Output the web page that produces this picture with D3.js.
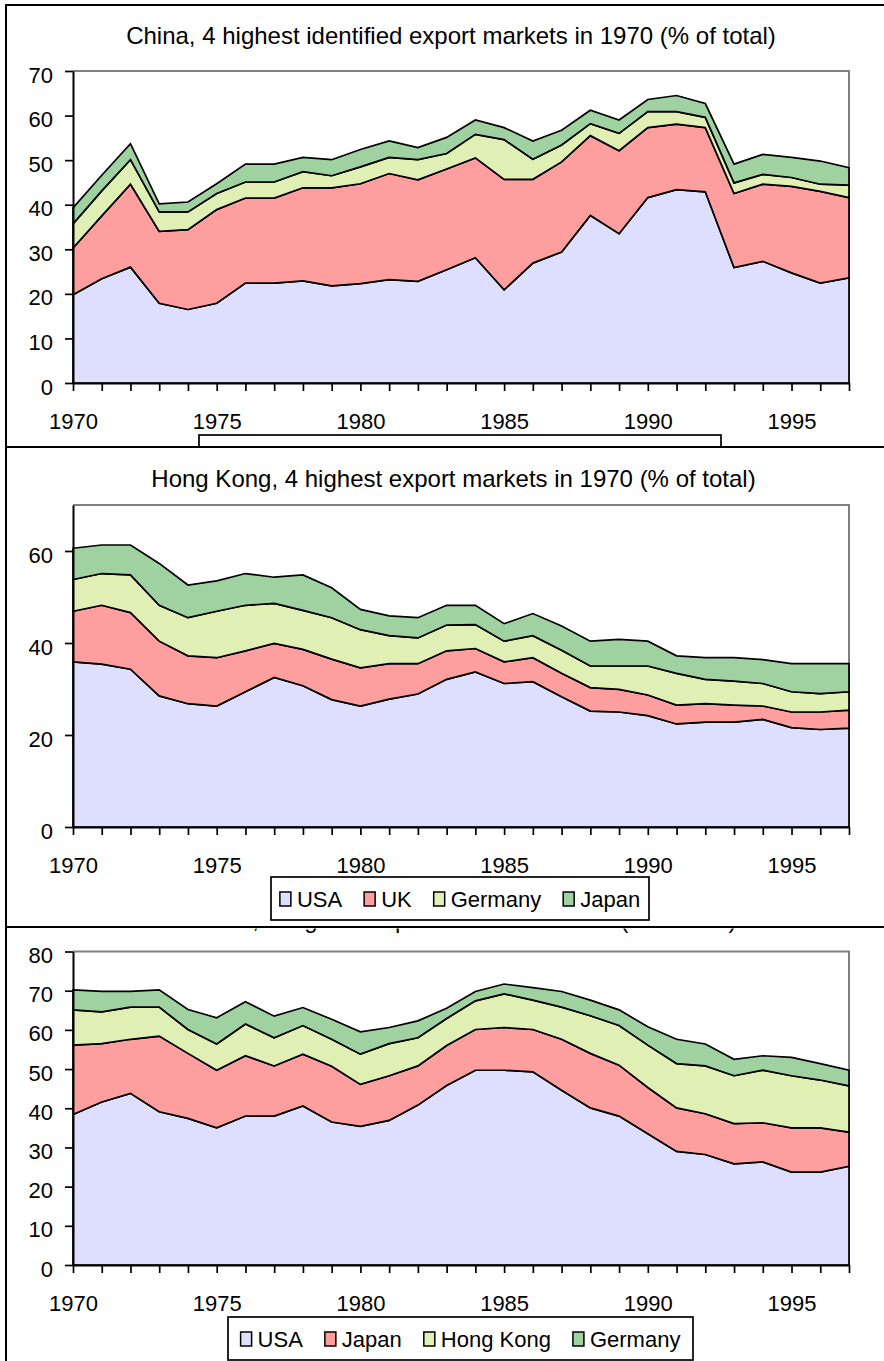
<!DOCTYPE html>
<html><head><meta charset="utf-8">
<script src="https://cdn.jsdelivr.net/npm/d3@7"></script>
<style>
body{margin:0;background:#fff}
svg{display:block}
text{font-family:"Liberation Sans",Arial,Helvetica,sans-serif;fill:#000}
</style>
</head><body>
<svg id="chart" width="884" height="1361"></svg>
<script>
// ---------- data ----------
const years = [1970,1971,1972,1973,1974,1975,1976,1977,1978,1979,1980,1981,1982,1983,
               1984,1985,1986,1987,1988,1989,1990,1991,1992,1993,1994,1995,1996,1997];
const xTickLabels = [1970,1975,1980,1985,1990,1995];

// China (its legend is hidden behind the Hong Kong panel)
const chinaHongKong  = [19.8,23.4,26.0,17.9,16.5,17.9,22.4,22.4,22.9,21.8,22.3,23.2,22.8,25.4,28.1,20.9,26.9,29.4,37.6,33.5,41.6,43.4,42.9,25.9,27.3,24.7,22.4,23.6];
const chinaJapan     = [10.5,14.1,18.6,16.1,17.9,21.0,19.1,19.1,20.9,22.0,22.4,23.8,22.8,22.6,22.4,24.8,18.8,20.2,17.9,18.6,15.7,14.7,14.4,16.6,17.3,19.4,20.6,18.0];
const chinaSingapore = [5.4,5.6,5.5,4.4,4.0,3.6,3.6,3.6,3.6,2.7,3.8,3.6,4.5,3.5,5.3,8.9,4.5,3.8,2.7,3.9,3.6,2.8,2.3,2.4,2.2,2.0,1.6,2.8];
const chinaGermany   = [3.6,3.5,3.6,1.8,2.2,2.2,4.0,4.0,3.2,3.6,3.9,3.7,2.7,3.6,3.2,2.7,4.1,3.3,3.0,3.0,2.7,3.6,3.1,4.2,4.5,4.5,5.2,3.9];
const chinaYTicks = [0,10,20,30,40,50,60,70];

// Hong Kong
const hkUSA     = [35.9,35.4,34.3,28.5,26.8,26.3,29.4,32.5,30.7,27.7,26.3,27.8,28.9,32.1,33.7,31.2,31.6,28.3,25.2,25.0,24.2,22.4,22.8,22.8,23.4,21.6,21.2,21.5];
const hkUK      = [11.0,12.8,12.3,11.9,10.4,10.5,8.9,7.4,7.9,8.8,8.3,7.7,6.6,6.2,5.1,4.7,5.2,5.1,5.1,4.9,4.5,4.1,4.0,3.7,2.9,3.4,3.8,3.9];
const hkGermany = [6.9,6.9,8.2,7.8,8.3,10.1,9.9,8.7,8.5,9.0,8.3,6.1,5.6,5.6,5.2,4.5,4.8,5.0,4.7,5.1,6.3,6.9,5.3,5.2,4.9,4.4,4.0,4.0];
const hkJapan   = [6.8,6.2,6.5,9.1,7.1,6.6,6.9,5.7,7.7,6.5,4.4,4.3,4.4,4.3,4.2,3.8,4.8,5.3,5.4,5.8,5.4,3.8,4.7,5.1,5.2,6.1,6.5,6.1];
const hkYTicks = [0,20,40,60];

// Taiwan
const twUSA      = [38.4,41.6,43.8,39.1,37.4,35.0,38.0,38.0,40.6,36.5,35.4,36.9,40.8,45.8,49.7,49.7,49.3,44.6,40.1,38.0,33.5,29.0,28.2,25.8,26.3,23.7,23.7,25.2];
const twJapan    = [17.7,14.9,13.8,19.3,16.6,14.7,15.4,12.8,13.2,14.2,10.7,11.4,10.0,10.2,10.4,10.9,10.8,13.0,13.9,13.0,11.8,11.1,10.4,10.3,10.0,11.3,11.3,8.7];
const twHongKong = [9.0,8.1,8.2,7.4,6.1,6.7,8.1,7.2,7.3,6.9,7.7,8.2,7.2,6.9,7.3,8.6,7.5,8.2,9.6,10.1,10.8,11.3,12.2,12.2,13.4,13.3,12.2,11.8];
const twGermany  = [5.1,5.2,4.0,4.4,5.1,6.7,5.7,5.5,4.6,5.1,5.7,4.1,4.3,2.6,2.4,2.5,3.2,4.0,4.0,4.0,4.7,6.2,5.6,4.2,3.7,4.7,4.2,4.0];
const twYTicks = [0,10,20,30,40,50,60,70,80];

// ---------- styles ----------
const C1 = "#dedeff", C2 = "#ff9e9e", C3 = "#e0efb4", C4 = "#a0d1a0";
const plotL = 73, plotR = 849;

const panels = {
  china: {
    title: "China, 4 highest identified export markets in 1970 (% of total)",
    titleX: 451, titleY: 43.5, frameTop: 5, frameBottom: 447,
    plotTop: 71, plotBottom: 383, yMax: 70, yTicks: chinaYTicks,
    series: [["Hong Kong", chinaHongKong, C1], ["Japan", chinaJapan, C2], ["Singapore", chinaSingapore, C3], ["Germany", chinaGermany, C4]],
    legend: {top: 435, cx: 460, width: 522, hidden: true}
  },
  hk: {
    title: "Hong Kong, 4 highest export markets in 1970 (% of total)",
    titleX: 453.5, titleY: 486.5, frameTop: 447, frameBottom: 927,
    plotTop: 505, plotBottom: 827, yMax: 70, yTicks: hkYTicks,
    series: [["USA", hkUSA, C1], ["UK", hkUK, C2], ["Germany", hkGermany, C3], ["Japan", hkJapan, C4]],
    legend: {top: 877, cx: 460, width: 378}
  },
  tw: {
    title: "Taiwan, 4 highest export markets in 1970 (% of total)",
    titleX: 457, titleY: 927.5, frameTop: 880, frameBottom: 1420, titleClipTop: 928.5,
    plotTop: 951.5, plotBottom: 1265, yMax: 80, yTicks: twYTicks,
    series: [["USA", twUSA, C1], ["Japan", twJapan, C2], ["Hong Kong", twHongKong, C3], ["Germany", twGermany, C4]],
    legend: {top: 1317, cx: 460.5, width: 465}
  }
};

const svg = d3.select("#chart");
const defs = svg.append("defs");

function drawPanel(p, id) {
  const g = svg.append("g");
  const x = d3.scaleLinear().domain([years[0], years[years.length - 1]]).range([plotL, plotR]);
  const y = d3.scaleLinear().domain([0, p.yMax]).range([p.plotBottom, p.plotTop]);

  // frame
  g.append("rect").attr("x", 6).attr("y", p.frameTop).attr("width", 920)
    .attr("height", p.frameBottom - p.frameTop)
    .attr("fill", "#fff").attr("stroke", "#000").attr("stroke-width", 2);

  // title (optionally clipped: only the part not covered by the panel above)
  const title = g.append("text").attr("x", p.titleX).attr("y", p.titleY)
    .attr("text-anchor", "middle").attr("font-size", 24).text(p.title);
  if (p.titleClipTop !== undefined) {
    defs.append("clipPath").attr("id", "clip-" + id)
      .append("rect").attr("x", 0).attr("y", p.titleClipTop).attr("width", 884).attr("height", 20);
    title.attr("clip-path", `url(#clip-${id})`);
  }

  // plot-area border (grey top + right)
  g.append("path").attr("d", `M${plotL},${p.plotTop}H${plotR}V${p.plotBottom}`)
    .attr("fill", "none").attr("stroke", "#808080").attr("stroke-width", 2);

  // stacked areas
  const keys = p.series.map(s => s[0]);
  const rows = years.map((yr, i) => {
    const o = {year: yr};
    p.series.forEach(s => { o[s[0]] = s[1][i]; });
    return o;
  });
  const layers = d3.stack().keys(keys)(rows);
  const area = d3.area().x(d => x(d.data.year)).y0(d => y(d[0])).y1(d => y(d[1]));
  layers.forEach((layer, k) => {
    g.append("path").attr("d", area(layer))
      .attr("fill", p.series[k][2]).attr("stroke", "#000")
      .attr("stroke-width", 1.7).attr("stroke-linejoin", "miter");
  });

  // y axis
  const ya = g.append("g").attr("transform", `translate(${plotL},0)`)
    .call(d3.axisLeft(y).tickValues(p.yTicks).tickSize(8).tickSizeOuter(0).tickPadding(12).tickFormat(d3.format("d")));
  ya.select(".domain").attr("stroke", "#000").attr("stroke-width", 2);
  ya.selectAll(".tick line").attr("stroke", "#000").attr("stroke-width", 1.7);
  ya.selectAll(".tick text").attr("font-size", 22).attr("dy", "0.5em")
    .attr("font-family", '"Liberation Sans",Arial,sans-serif').attr("fill", "#000");
  ya.attr("font-size", null).attr("font-family", null);

  // x axis
  const xa = g.append("g").attr("transform", `translate(0,${p.plotBottom})`)
    .call(d3.axisBottom(x).tickValues(years).tickSize(8).tickSizeOuter(0)
      .tickFormat(d => xTickLabels.includes(d) ? String(d) : ""));
  xa.select(".domain").attr("stroke", "#000").attr("stroke-width", 2);
  xa.selectAll(".tick line").attr("stroke", "#000").attr("stroke-width", 1.7);
  xa.selectAll(".tick text").attr("font-size", 22).attr("y", 46).attr("dy", 0)
    .attr("font-family", '"Liberation Sans",Arial,sans-serif').attr("fill", "#000");
  xa.attr("font-size", null).attr("font-family", null);

  // legend
  const L = p.legend, boxH = 43;
  const lg = g.append("g");
  lg.append("rect").attr("x", L.cx - L.width / 2).attr("y", L.top)
    .attr("width", L.width).attr("height", boxH)
    .attr("fill", "#fff").attr("stroke", "#000").attr("stroke-width", 1.7);
  if (L.hidden) return; // entries lie entirely under the next panel
  const items = p.series.map(s => {
    const it = lg.append("g");
    it.append("rect").attr("x", 0).attr("y", L.top + 15).attr("width", 11).attr("height", 14)
      .attr("fill", s[2]).attr("stroke", "#000").attr("stroke-width", 1.5);
    const t = it.append("text").attr("x", 17).attr("y", L.top + 30).attr("font-size", 22).text(s[0]);
    return {it, w: 17 + t.node().getComputedTextLength()};
  });
  const gap = 22;
  const total = d3.sum(items, d => d.w) + gap * (items.length - 1);
  let cx = L.cx - total / 2;
  items.forEach(d => { d.it.attr("transform", `translate(${cx},0)`); cx += d.w + gap; });
}

// drawing order: Taiwan, China, then Hong Kong on top
drawPanel(panels.tw, "tw");
drawPanel(panels.china, "china");
drawPanel(panels.hk, "hk");
</script>
</body></html>
